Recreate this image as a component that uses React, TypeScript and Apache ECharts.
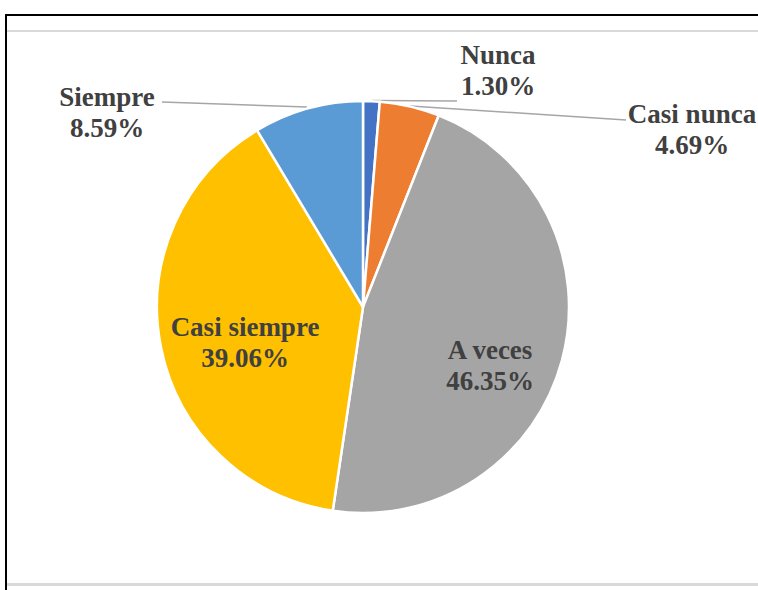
import React, { useEffect, useRef } from "react";
import * as echarts from "echarts";

const categories = ["Nunca", "Casi nunca", "A veces", "Casi siempre", "Siempre"];
const values = [1.3, 4.69, 46.35, 39.06, 8.59];
const colors = ["#4472C4", "#ED7D31", "#A5A5A5", "#FFC000", "#5B9BD5"];

// label placement (pixel) for each slice, and connector lines
const labelPos: { x: number; y: number; line?: number[][] }[] = [
  { x: 498, y: 70, line: [[372, 100.5], [457, 101]] },
  { x: 692, y: 129, line: [[410, 106], [626, 120]] },
  { x: 490, y: 365 },
  { x: 245, y: 342 },
  { x: 107, y: 112, line: [[307, 107], [162, 102]] },
];

export default function App() {
  const ref = useRef<HTMLDivElement>(null);
  useEffect(() => {
    if (!ref.current) return;
    const chart = echarts.init(ref.current, null, { renderer: "svg" });
    const labelStyle = {
      fontFamily: "Liberation Serif",
      fontWeight: "bold" as const,
      fontSize: 27,
      lineHeight: 31,
      color: "#404040",
    };
    chart.setOption({
      animation: false,
      backgroundColor: "#ffffff",
      graphic: [
        { type: "rect", shape: { x: 5, y: 14, width: 760, height: 2 }, style: { fill: "#000" }, silent: true },
        { type: "rect", shape: { x: 5, y: 14, width: 2, height: 580 }, style: { fill: "#000" }, silent: true },
        { type: "rect", shape: { x: 7, y: 30, width: 760, height: 2 }, style: { fill: "#d9d9d9" }, silent: true },
        { type: "rect", shape: { x: 7, y: 583, width: 760, height: 3 }, style: { fill: "#d9d9d9" }, silent: true },
      ],
      series: [
        {
          type: "pie",
          center: [363, 307],
          radius: 206,
          startAngle: 90,
          clockwise: true,
          avoidLabelOverlap: false,
          itemStyle: { borderColor: "#ffffff", borderWidth: 2.5 },
          label: {
            ...labelStyle,
            align: "center",
            formatter: (p: any) => `${p.name}\n${Number(p.value).toFixed(2)}%`,
          },
          labelLine: { show: true, lineStyle: { color: "#A6A6A6", width: 1.5 } },
          labelLayout: (params: any) => {
            const lp = labelPos[params.dataIndex];
            const o: any = { x: lp.x, y: lp.y, align: "center", verticalAlign: "middle" };
            if (lp.line) o.labelLinePoints = lp.line;
            return o;
          },
          emphasis: { disabled: true },
          data: categories.map((c, i) => {
            const inside = i === 2 || i === 3;
            return {
              name: c,
              value: values[i],
              itemStyle: { color: colors[i] },
              label: { position: inside ? "inside" : "outside", ...labelStyle },
              labelLine: { show: !inside },
            };
          }),
        },
      ],
    });
    return () => chart.dispose();
  }, []);
  return (
    <div
      ref={ref}
      style={{ position: "fixed", left: 0, top: 0, width: 758, height: 590 }}
    />
  );
}
